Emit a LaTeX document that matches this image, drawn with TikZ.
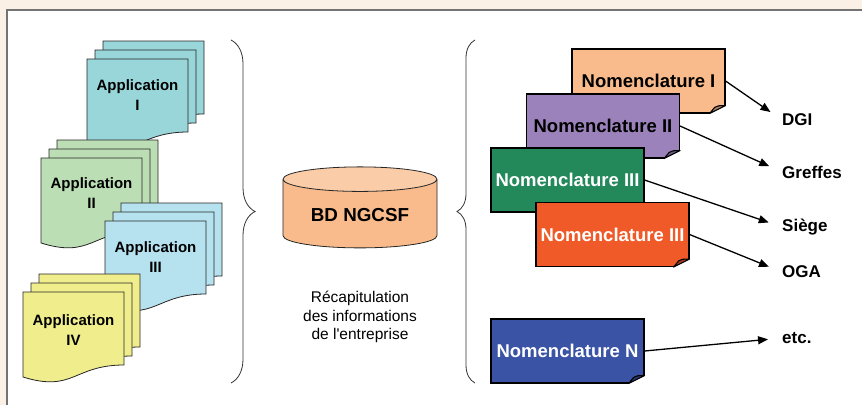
\documentclass[tikz,border=0pt]{standalone}
\usepackage{fontspec}
\setmainfont{Liberation Sans}
\usepackage{xcolor}
\definecolor{PageBeige}{HTML}{FAF0E6}
\definecolor{AppTeal}{HTML}{98D6DA}
\definecolor{AppGreen}{HTML}{BCDEB4}
\definecolor{AppBlue}{HTML}{B6E2F0}
\definecolor{AppYellow}{HTML}{F0EE8C}
\definecolor{NomPeach}{HTML}{F9BB8B}
\definecolor{NomPurple}{HTML}{9B82BA}
\definecolor{NomGreen}{HTML}{23895B}
\definecolor{NomRed}{HTML}{F05A28}
\definecolor{NomBlue}{HTML}{3A53A4}
\usetikzlibrary{positioning,calc,arrows.meta,shapes.geometric,decorations.pathreplacing}

\newcommand\docsheet[3]{\draw[sheet, fill=#3] (#1,#2) -- ++(101,0) -- ++(0,73) .. controls +(-50.5,0) and +(50.5,15.7) .. ++(-101,12) -- cycle;}
\newcommand\docstack[3]{\docsheet{#1+16}{#2-18}{#3}\docsheet{#1+8}{#2-9}{#3}\docsheet{#1}{#2}{#3}}
\newcommand\pagefold[2]{%
  \fill[white] ($(#1.south east)+(-16,0)$) -- ($(#1.south east)+(0,-8)$) -- ($(#1.south east)+(2,-8)$) -- ($(#1.south east)+(2,2)$) -- ($(#1.south east)+(-16,2)$) -- cycle;
  \draw[foldline, fill=#2] ($(#1.south east)+(-16,0)$) -- ($(#1.south east)+(0,-8)$) .. controls ($(#1.south east)+(-7,-8)$) .. ($(#1.south east)+(-11,-6)$) -- cycle;}

\begin{document}
\begin{tikzpicture}[x=1pt, y=-1pt,
    sheet/.style={draw=black!85, line width=0.8pt},
    apptext/.style={align=center, inner sep=0pt, font=\fontsize{15}{20}\selectfont\bfseries},
    nomen/.style={draw=black, line width=1.1pt, rectangle, minimum width=153pt, minimum height=64pt, inner sep=0pt, font=\fontsize{18.5}{20}\selectfont\bfseries},
    foldline/.style={draw=black, line width=1.1pt, line join=round},
    target/.style={anchor=west, inner sep=0pt, font=\fontsize{17}{20}\selectfont\bfseries},
    link/.style={-{Triangle[length=10pt,width=8pt]}, line width=1.3pt, shorten >=14pt},
    brace/.style={decorate, draw=black!80, line width=0.8pt}]
    \useasboundingbox (0,0) rectangle (862,405);
    \fill[PageBeige] (0,0) rectangle (862,405);
    \fill[white] (7,10) rectangle (862,405);
    \draw[black!55, line width=1.5pt] (7,405) -- (7,10) -- (862,10);

    \docstack{87}{59}{AppTeal}
    \node[apptext] (appI) at (137.5,95) {Application\\I};
    \docstack{41}{158}{AppGreen}
    \node[apptext] (appII) at (91.5,193) {Application\\II};
    \docstack{105}{221}{AppBlue}
    \node[apptext] (appIII) at (155.5,257) {Application\\III};
    \docstack{23}{292}{AppYellow}
    \node[apptext] (appIV) at (73.5,330) {Application\\IV};

    \draw[brace, decoration={brace, amplitude=24pt}] (231,40) -- (231,383);
    \draw[brace, decoration={brace, amplitude=18pt}] (475,383) -- (475,40);

    \node[cylinder, shape border rotate=90, aspect=0.234, draw=black!85, line width=0.8pt,
          cylinder uses custom fill, cylinder body fill=NomPeach, cylinder end fill=NomPeach!75!white,
          minimum width=154pt, minimum height=81pt, font=\fontsize{18.8}{20}\selectfont\bfseries] (db) at (360,215.5) {BD NGCSF};
    \node[align=center, inner sep=0pt, below=43pt of db, font=\fontsize{15.5}{18.5}\selectfont] (recap) {Récapitulation\\des informations\\de l\textquotesingle entreprise};

    \node[nomen, fill=NomPeach] (nomI) at (648.5,81) {Nomenclature I};
    \pagefold{nomI}{NomPeach!70!black}
    \node[nomen, fill=NomPurple] (nomII) at (603,126) {Nomenclature II};
    \pagefold{nomII}{NomPurple!70!black}
    \node[nomen, fill=NomGreen, text=white] (nomIIIa) at (567.5,180) {Nomenclature III};
    \pagefold{nomIIIa}{NomGreen!70!black}
    \node[nomen, fill=NomRed, text=white] (nomIIIb) at (612.5,234.5) {Nomenclature III};
    \pagefold{nomIIIb}{NomRed!70!black}
    \node[nomen, fill=NomBlue, text=white] (nomN) at (567.5,351) {Nomenclature N};
    \pagefold{nomN}{NomBlue!70!black}

    \node[target] (dgi) at (782,120) {DGI};
    \node[target] (greffes) at (782,172) {Greffes};
    \node[target] (siege) at (782,227) {Siège};
    \node[target] (oga) at (782,272) {OGA};
    \node[target] (etc) at (782,338) {etc.};

    \draw[link] (nomI.east) -- (dgi.west);
    \draw[link] (nomII.east) -- (greffes.west);
    \draw[link] (nomIIIa.east) -- (siege.west);
    \draw[link] (nomIIIb.east) -- (oga.west);
    \draw[link] (nomN.east) -- (etc.west);
\end{tikzpicture}
\end{document}
